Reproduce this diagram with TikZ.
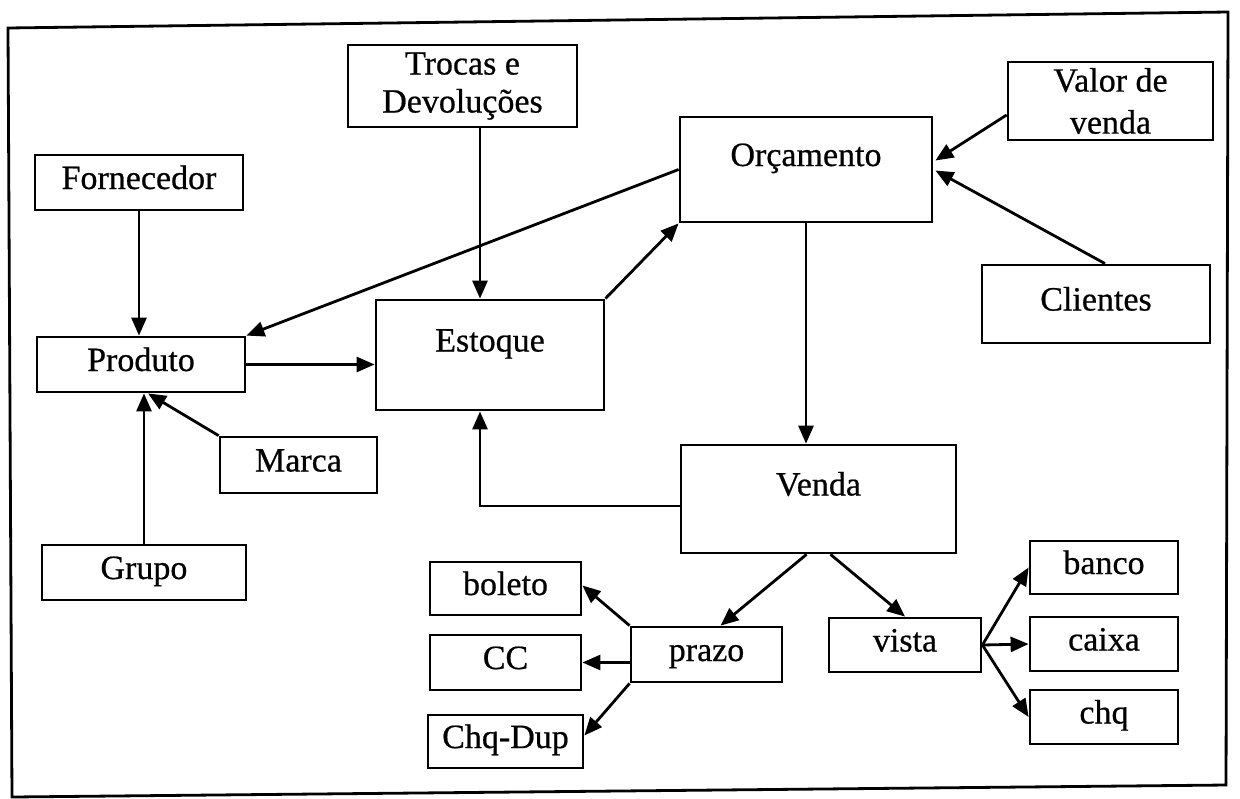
\documentclass[tikz,border=0pt]{standalone}
\usepackage{fontspec}
\setmainfont{Liberation Serif}[FakeBold=0.6]
\usetikzlibrary{arrows.meta,calc}
\begin{document}
\begin{tikzpicture}[x=0.5pt,y=-0.5pt,
  box/.style={draw,line width=1.4pt,inner sep=0pt,align=center,font=\fontsize{17}{19}\selectfont},
  one/.style={text height=11.5pt,text depth=5pt},
  conn/.style={line width=1.4pt,-{Triangle[length=9pt,width=7.5pt]}},
  plain/.style={line width=1.4pt}]
\useasboundingbox (0,0) rectangle (1240,798);
\draw[plain] (8,28) -- (1228,12) -- (1226,785) -- (12,797) -- cycle;
% nodes
\node[box,minimum width=114.5pt,minimum height=41pt] (troc) at (462.5,86) {Trocas e\\Devoluções};
\node[box,one,minimum width=104pt,minimum height=27.5pt] (forn) at (139,182.5) {Fornecedor};
\node[box,one,minimum width=126pt,minimum height=52.5pt] (orc) at (806,169.5) {\raisebox{5pt}[\height][\depth]{Orçamento}};
\node[box,minimum width=102.5pt,minimum height=39pt,font=\fontsize{17}{21}\selectfont] (valor) at (1110.5,101) {Valor de\\venda};
\node[box,one,minimum width=114pt,minimum height=39pt] (cli) at (1096,304) {Clientes};
\node[box,one,minimum width=104pt,minimum height=27.5pt] (prod) at (141,364.5) {Produto};
\node[box,one,minimum width=114pt,minimum height=55pt] (est) at (490,355) {\raisebox{5pt}[\height][\depth]{Estoque}};
\node[box,one,minimum width=78.5pt,minimum height=28pt] (marca) at (298.5,465) {Marca};
\node[box,one,minimum width=102pt,minimum height=27.5pt] (grupo) at (144,572.5) {Grupo};
\node[box,one,minimum width=137.5pt,minimum height=54pt] (venda) at (818.5,499) {\raisebox{5pt}[\height][\depth]{Venda}};
\node[box,one,minimum width=75.5pt,minimum height=26.5pt] (bol) at (505.5,588.5) {boleto};
\node[box,one,minimum width=75.5pt,minimum height=27.5pt] (cc) at (505.5,662.5) {CC};
\node[box,one,minimum width=77.5pt,minimum height=26.5pt] (chqd) at (505.5,741.5) {Chq-Dup};
\node[box,one,minimum width=75.5pt,minimum height=27.5pt] (prazo) at (706.5,654.5) {prazo};
\node[box,one,minimum width=76pt,minimum height=27pt] (vista) at (905,645) {vista};
\node[box,one,minimum width=74pt,minimum height=26.5pt] (banco) at (1104,567.5) {banco};
\node[box,one,minimum width=74pt,minimum height=27pt] (caixa) at (1104,644) {caixa};
\node[box,one,minimum width=74pt,minimum height=27pt] (chq) at (1104,717) {chq};
% connectors
\draw[conn] (forn.south) -- (forn.south |- prod.north);
\draw[conn] ($(troc.south)+(17.5,0)$) -- ($(est.north)+(-10,0)$);
\draw[conn] (prod.east) -- (prod.east -| est.west);
\draw[conn] (est.north east) -- (orc.south west);
\draw[conn] (orc.west) -- (prod.north east);
\draw[conn] ($(valor.west)+(0,14)$) -- ($(orc.east)+(2,-9)$);
\draw[conn] ($(cli.north)+(9,0)$) -- ($(orc.east)+(2,1)$);
\draw[conn] (orc.south) -- (orc.south |- venda.north);
\draw[conn] ($(venda.west)+(0,7)$) -| ($(est.south)+(-10,0)$);
\draw[conn] (marca.north west) -- ($(prod.south)+(7,0)$);
\draw[conn] (grupo.north) -- (grupo.north |- prod.south);
\draw[conn] ($(venda.south)+(-12,0)$) -- ($(prazo.north)+(14,0)$);
\draw[conn] ($(venda.south)+(12,0)$) -- (vista.north);
\draw[conn] (prazo.north west) -- ($(bol.east)+(0,-3)$);
\draw[conn] (prazo.west |- cc.east) -- (cc.east);
\draw[conn] (prazo.south west) -- ($(chqd.east)+(0,-6)$);
\draw[conn] (vista.east) -- (banco.west);
\draw[conn] (vista.east) -- (caixa.west);
\draw[conn] (vista.east) -- (chq.west);
\end{tikzpicture}
\end{document}
